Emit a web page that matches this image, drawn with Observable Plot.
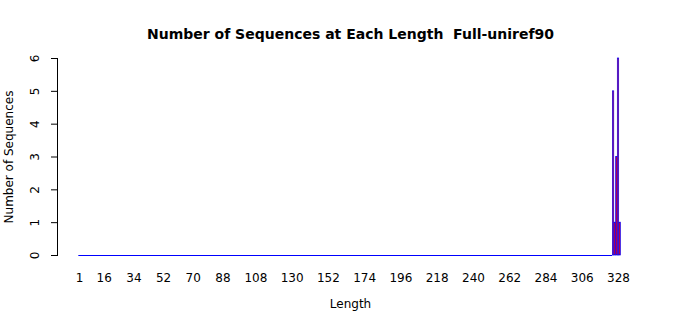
<!DOCTYPE html>
<html><head><meta charset="utf-8">
<script src="https://cdn.jsdelivr.net/npm/d3@7"></script>
<script src="https://cdn.jsdelivr.net/npm/@observablehq/plot@0.6"></script>
<style>body{margin:0;background:#fff;font-family:"DejaVu Sans",sans-serif}</style>
</head><body><div id="c"></div>
<script>
const lengths = [325, 326, 327, 328, 329];
const counts = [5, 1, 3, 6, 1];
const zeroRange = [1, 324];
const xTicks = [1, 16, 34, 52, 70, 88, 108, 130, 152, 174, 196, 218, 240, 262, 284, 306, 328];
const yTicks = [0, 1, 2, 3, 4, 5, 6];
const titleText = "Number of Sequences at Each Length  Full-uniref90";
const xLabel = "Length";
const yLabel = "Number of Sequences";

const bars = lengths.map((l, i) => ({len: l, count: counts[i]}));
const hw = 0.5 / 1.2;

const chart = Plot.plot({
  width: 700, height: 315,
  marginLeft: 57, marginRight: 57, marginTop: 58, marginBottom: 60,
  style: {fontFamily: "DejaVu Sans", fontSize: "12px", color: "black", background: "white"},
  x: {domain: [1, 328], range: [79, 618]},
  y: {domain: [0, 6]},
  marks: [
    Plot.frame({anchor: "left", stroke: "black"}),
    Plot.axisY({ticks: yTicks, tickSize: 6, tickFormat: () => "", label: null}),
    Plot.text(yTicks, {y: d => d, text: d => String(d), frameAnchor: "left", textAnchor: "middle", dx: -22, rotate: -90, fontSize: 12, fill: "black"}),
    Plot.axisX({ticks: xTicks, tickSize: 0, tickPadding: 18, label: null, fontSize: 12, tickFormat: d => String(d)}),
    Plot.ruleY([0], {x1: zeroRange[0] - hw, x2: zeroRange[1] + hw, stroke: "blue"}),
    Plot.rectY(bars, {x1: d => d.len - hw, x2: d => d.len + hw, y: "count", fill: "red", stroke: "blue", strokeWidth: 0.7}),
    Plot.text([titleText], {frameAnchor: "top", dy: -29, fontWeight: "bold", fontSize: 14, fill: "black"}),
    Plot.text([xLabel], {frameAnchor: "bottom", dy: 52, fontSize: 12, fill: "black"}),
    Plot.text([yLabel], {frameAnchor: "left", textAnchor: "middle", dx: -48, rotate: -90, fontSize: 12, fill: "black"})
  ]
});
document.getElementById("c").appendChild(chart);
</script></body></html>
